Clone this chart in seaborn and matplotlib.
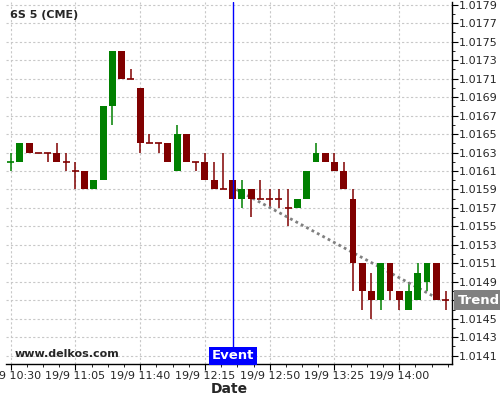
import pandas as pd
import numpy as np
import matplotlib
matplotlib.use('Agg')
import matplotlib.pyplot as plt
from matplotlib.ticker import MultipleLocator, FixedLocator
import seaborn as sns

# OHLC values, one candle every 5 minutes from 19/9 10:30
opens = [1.0162, 1.0162, 1.0164, 1.0163, 1.0163, 1.0163, 1.0162, 1.0161,
         1.0161, 1.0159, 1.0160, 1.0168, 1.0174, 1.0171, 1.0170, 1.0164,
         1.0164, 1.0164, 1.0161, 1.0165, 1.0162, 1.0162, 1.0160, 1.0159,
         1.0160, 1.0158, 1.0159, 1.0158, 1.0158, 1.0158, 1.0157, 1.0157,
         1.0158, 1.0162, 1.0163, 1.0162, 1.0161, 1.0158, 1.0151, 1.0148,
         1.0147, 1.0151, 1.0148, 1.0146, 1.0147, 1.0149, 1.0151, 1.0147]
highs = [1.0163, 1.0164, 1.0164, 1.0163, 1.0163, 1.0164, 1.0163, 1.0162,
         1.0161, 1.0160, 1.0168, 1.0174, 1.0174, 1.0172, 1.0170, 1.0165,
         1.0164, 1.0164, 1.0166, 1.0165, 1.0162, 1.0163, 1.0162, 1.0163,
         1.0160, 1.0160, 1.0159, 1.0160, 1.0159, 1.0159, 1.0159, 1.0158,
         1.0161, 1.0164, 1.0163, 1.0163, 1.0162, 1.0159, 1.0151, 1.0150,
         1.0151, 1.0151, 1.0148, 1.0149, 1.0151, 1.0151, 1.0151, 1.0148]
lows = [1.0161, 1.0162, 1.0163, 1.0163, 1.0162, 1.0162, 1.0161, 1.0159,
        1.0159, 1.0159, 1.0160, 1.0166, 1.0171, 1.0171, 1.0163, 1.0164,
        1.0163, 1.0162, 1.0161, 1.0162, 1.0161, 1.0160, 1.0159, 1.0159,
        1.0158, 1.0157, 1.0156, 1.0158, 1.0157, 1.0157, 1.0155, 1.0157,
        1.0158, 1.0162, 1.0162, 1.0161, 1.0159, 1.0148, 1.0146, 1.0145,
        1.0146, 1.0147, 1.0146, 1.0146, 1.0147, 1.0148, 1.0147, 1.0146]
closes = [1.0162, 1.0164, 1.0163, 1.0163, 1.0163, 1.0162, 1.0162, 1.0161,
          1.0159, 1.0160, 1.0168, 1.0174, 1.0171, 1.0171, 1.0164, 1.0164,
          1.0164, 1.0162, 1.0165, 1.0162, 1.0162, 1.0160, 1.0159, 1.0159,
          1.0158, 1.0159, 1.0158, 1.0158, 1.0158, 1.0158, 1.0157, 1.0158,
          1.0161, 1.0163, 1.0162, 1.0161, 1.0159, 1.0151, 1.0148, 1.0147,
          1.0151, 1.0148, 1.0147, 1.0148, 1.0150, 1.0151, 1.0147, 1.0147]

time_labels = ['19/9 10:30', '19/9 11:05', '19/9 11:40', '19/9 12:15',
               '19/9 12:50', '19/9 13:25', '19/9 14:00']
event_index = 24
trend_x = [24.4, 46.5]
trend_y = [1.0159, 1.0147]

GREEN = '#008000'
RED = '#800000'

df = pd.DataFrame({'open': opens, 'high': highs, 'low': lows, 'close': closes})
df['i'] = np.arange(len(df))
df['color'] = [GREEN if (c > o or i == 0) else RED
               for i, (o, c) in enumerate(zip(df['open'], df['close']))]

sns.set_style('white')
plt.rcParams['font.family'] = ['DejaVu Sans']

fig = plt.figure(figsize=(5, 4), dpi=100)
ax = fig.add_axes([0.012, 0.09, 0.892, 0.905])

# grid
ax.grid(True, which='major', color='#c8c8c8', linestyle=(0, (2, 2)), linewidth=0.8)
ax.set_axisbelow(True)

# wicks
ax.vlines(df['i'], df['low'], df['high'], colors=df['color'], linewidth=1.1, zorder=2)
# bodies
body = df[df['open'] != df['close']]
ax.bar(body['i'], (body['close'] - body['open']).abs(),
       bottom=body[['open', 'close']].min(axis=1), width=0.75,
       color=body['color'], linewidth=0, zorder=3)
doji = df[df['open'] == df['close']]
ax.hlines(doji['close'], doji['i'] - 0.38, doji['i'] + 0.38,
          colors=doji['color'], linewidth=1.2, zorder=3)

# trend line
sns.lineplot(x=trend_x, y=trend_y, ax=ax, color='#808080', linewidth=2,
             linestyle=(0, (1, 1.2)), zorder=2.6)

# event line
ax.axvline(event_index, color='#0000ff', linewidth=1, zorder=4)

ax.set_xlim(-0.5, 47.7)
ax.set_ylim(1.01401, 1.01793)

ax.xaxis.set_major_locator(FixedLocator([7 * k for k in range(len(time_labels))]))
ax.set_xticklabels(time_labels)
ax.xaxis.set_minor_locator(MultipleLocator(1.75))
ax.yaxis.set_major_locator(FixedLocator([1.0141 + 0.0002 * k for k in range(20)]))
ax.yaxis.set_minor_locator(MultipleLocator(0.0001))


def fmt_price(v, pos):
    # the trend marker sits where the 1.0147 label would be
    if abs(v - trend_y[-1]) < 1e-6:
        return ''
    return f'{v:.4f}'


ax.yaxis.set_major_formatter(plt.FuncFormatter(fmt_price))
ax.yaxis.tick_right()

ax.tick_params(axis='both', which='major', labelsize=8, length=4, width=0.8,
               color='black', pad=1, bottom=True, right=True, left=False)
ax.tick_params(axis='both', which='minor', length=2, width=0.6, color='black',
               bottom=True, right=True, left=False)

for s in ['left', 'top']:
    ax.spines[s].set_visible(False)
for s in ['bottom', 'right']:
    ax.spines[s].set_color('black')
    ax.spines[s].set_linewidth(1)

ax.set_xlabel('Date', fontsize=10, fontweight='bold', labelpad=1)

ax.text(0.009, 0.964, '6S 5 (CME)', transform=ax.transAxes, fontsize=8,
        fontweight='bold', va='center', ha='left')
ax.text(0.02, 0.028, 'www.delkos.com', transform=ax.transAxes, fontsize=8,
        fontweight='bold', va='center', ha='left')

ax.annotate('Event', xy=(event_index, 0.0), xycoords=('data', 'axes fraction'),
            xytext=(0, 1.3), textcoords='offset points', ha='center', va='bottom',
            color='white', fontsize=9.5, fontweight='bold', zorder=5,
            bbox=dict(boxstyle='square,pad=0.2', fc='#0000ff', ec='none'))
ax.annotate('Trend', xy=(1.0, trend_y[-1]), xycoords=('axes fraction', 'data'),
            xytext=(4, 0), textcoords='offset points', ha='left', va='center',
            color='white', fontsize=9.5, fontweight='bold', annotation_clip=False,
            zorder=5, bbox=dict(boxstyle='square,pad=0.25', fc='#808080', ec='none'))

fig.savefig('out.png', dpi=100)
